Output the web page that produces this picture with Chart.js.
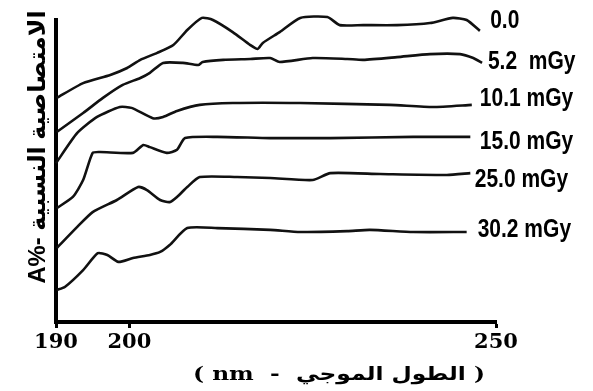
<!DOCTYPE html>
<html><head><meta charset="utf-8">
<script src="https://cdn.jsdelivr.net/npm/chart.js@4.4.1/dist/chart.umd.min.js"></script>
<style>html,body{margin:0;padding:0;background:#fff;} canvas{display:block;}</style>
</head><body>
<canvas id="c" width="593" height="391"></canvas>
<script>
// ---- data (wavelength in nm, relative absorbance in arbitrary units) ----
const seriesNames = ['0.0', '5.2  mGy', '10.1 mGy', '15.0 mGy', '25.0 mGy', '30.2 mGy'];
const xTicks = [190, 200, 250];

const wl_00 = [190.1,193.7,197.4,199.7,201.5,203.8,206.0,207.9,209.9,211.4,214.1,216.5,217.5,218.2,220.5,223.3,227.0,228.7,231.9,236.5,241.0,244.1,246.0,247.8];
const ab_00 = [74.2,79.1,81.8,84.1,86.8,89.1,91.7,96.7,100.7,100.0,96.0,91.7,90.4,92.4,96.0,100.7,101.0,98.3,98.3,98.3,99.0,100.7,100.0,96.4];

const wl_52 = [190.1,193.7,196.4,199.1,201.5,202.8,204.6,207.3,209.4,210.0,212.8,216.5,219.2,220.5,225.0,229.7,231.9,236.5,241.0,245.1,246.9,248.1];
const ab_52 = [62.9,69.2,74.2,78.5,80.8,82.5,85.8,85.8,85.1,86.1,86.8,87.1,87.4,86.1,87.4,87.1,86.8,87.7,88.7,88.7,87.4,85.8];

const wl_101 = [190.0,192.9,195.6,198.7,200.3,203.2,204.6,206.5,209.6,214.1,223.3,235.5,241.4,246.7];
const ab_101 = [52.6,62.6,67.9,71.2,70.9,67.5,67.9,69.9,71.9,72.5,72.5,71.9,71.2,71.9];

const wl_150 = [190.1,192.3,193.7,195.0,196.0,200.5,201.9,202.8,205.1,206.5,207.6,212.0,219.2,227.4,238.7,246.5];
const ab_150 = [37.7,41.4,47.0,56.0,56.3,56.0,58.6,57.9,56.0,57.0,60.9,61.3,60.9,60.9,61.3,61.3];

const wl_250 = [190.1,192.9,195.0,198.3,201.2,202.4,204.2,205.5,206.5,207.9,209.6,214.7,219.2,225.0,227.4,234.2,243.3,246.5];
const ab_250 = [24.5,31.5,36.4,40.4,44.7,43.7,40.4,39.7,41.4,44.7,48.0,48.0,47.7,47.0,49.3,49.0,48.7,49.3];

const wl_302 = [190.1,191.2,193.7,195.7,197.0,198.5,200.5,202.8,204.2,205.5,207.9,212.0,219.2,223.3,229.7,232.8,238.7,246.0];
const ab_302 = [10.6,11.6,17.2,22.8,22.2,19.9,21.2,22.2,23.2,25.5,31.1,31.1,30.5,29.8,30.1,30.5,29.8,29.8];

const allWl = [wl_00, wl_52, wl_101, wl_150, wl_250, wl_302];
const allAb = [ab_00, ab_52, ab_101, ab_150, ab_250, ab_302];

const xTitle = '( nm  -  الطول الموجي )';
const yTitle = 'A%- الامتصاصية النسبية';

// ---- chart ----
const datasets = allWl.map((wl, i) => ({
  label: seriesNames[i],
  data: wl.map((w, j) => ({ x: w, y: allAb[i][j] })),
  borderColor: '#111',
  borderWidth: 2.6,
  pointRadius: 0,
  tension: 0.2,
  fill: false,
  clip: false
}));

function drawFitted(ctx, text, x, y, width, font, rot, align) {
  ctx.save();
  ctx.font = font;
  const w = ctx.measureText(text).width;
  ctx.translate(x, y);
  if (rot) ctx.rotate(rot);
  ctx.scale(width / w, 1);
  ctx.textAlign = align || 'center';
  ctx.textBaseline = 'alphabetic';
  ctx.fillText(text, 0, 0);
  ctx.restore();
}

const annot = {
  id: 'annot',
  afterDraw(chart, args, opts) {
    const { ctx } = chart;
    const xs = chart.scales.x, ys = chart.scales.y;
    ctx.save();
    ctx.fillStyle = '#000';
    opts.labels.forEach((l, i) => {
      const px = xs.getPixelForValue(l.x), py = ys.getPixelForValue(l.y);
      ctx.save();
      ctx.font = 'bold 25px "Liberation Sans", Arial, sans-serif';
      ctx.textAlign = 'left';
      ctx.textBaseline = 'alphabetic';
      ctx.translate(px, py);
      ctx.scale(0.84, 1);
      ctx.fillText(seriesNames[i], 0, 0);
      ctx.restore();
    });
    const ca = chart.chartArea;
    drawFitted(ctx, xTitle, (ca.left + ca.right) / 2 + 63, ca.bottom + 58, 292,
      'bold 19px "DejaVu Serif", "DejaVu Sans", serif', 0, 'center');
    drawFitted(ctx, yTitle, ca.left - 11, (ca.top + ca.bottom) / 2 - 24, 273,
      'bold 24px "Liberation Sans", "DejaVu Sans", sans-serif', -Math.PI / 2, 'center');
    ctx.restore();
  }
};

new Chart(document.getElementById('c'), {
  type: 'line',
  data: { datasets },
  options: {
    responsive: false,
    animation: false,
    layout: { padding: { left: 56, right: 97, top: 20, bottom: 37 } },
    plugins: {
      legend: { display: false },
      tooltip: { enabled: false },
      annot: {
        labels: [
          { x: 249.2, y: 97.4 },
          { x: 248.9, y: 83.8 },
          { x: 247.8, y: 71.5 },
          { x: 247.8, y: 57.3 },
          { x: 247.1, y: 44.7 },
          { x: 247.5, y: 28.1 }
        ]
      }
    },
    scales: {
      x: {
        type: 'linear', min: 190, max: 250,
        afterBuildTicks: s => { s.ticks = xTicks.map(v => ({ value: v })); },
        afterFit: s => { s.height = 32; },
        ticks: { color: '#000', font: { family: 'DejaVu Serif', weight: 'bold', size: 21 }, padding: 2, maxRotation: 0, autoSkip: false },
        grid: { display: true, drawOnChartArea: false, drawTicks: true, tickLength: 6, tickWidth: 3, color: '#000' },
        border: { display: true, width: 4, color: '#000' }
      },
      y: {
        min: 0, max: 100,
        afterFit: s => { s.width = 0; },
        ticks: { display: false },
        grid: { display: false },
        border: { display: true, width: 4, color: '#000' }
      }
    }
  },
  plugins: [annot]
});
</script>
</body></html>
